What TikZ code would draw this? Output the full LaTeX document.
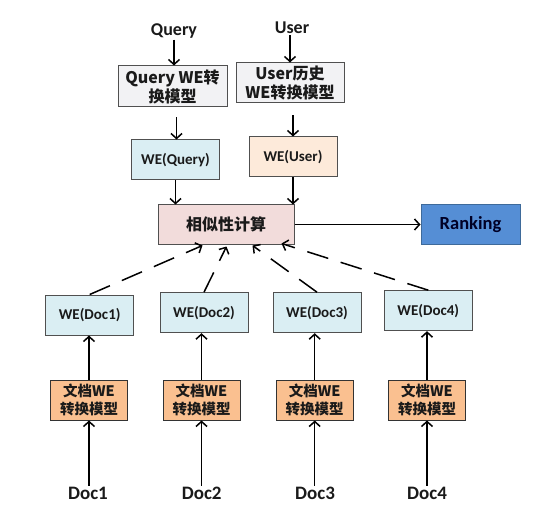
\documentclass[tikz,border=0pt]{standalone}
\usepackage{fontspec}
\setmainfont{Carlito}
\newfontfamily\cjk{Noto Sans CJK SC}
\usetikzlibrary{arrows.meta,calc}
\definecolor{qgray}{HTML}{F2F2F4}
\definecolor{lblue}{HTML}{DAEEF3}
\definecolor{peach}{HTML}{FDEADA}
\definecolor{pinkc}{HTML}{F2DCDB}
\definecolor{rankblue}{HTML}{558ED5}
\definecolor{rankedge}{HTML}{3E6A9A}
\definecolor{orangec}{HTML}{FAC090}
\definecolor{edgec}{HTML}{505050}
\definecolor{txt}{HTML}{1A1A1A}
\tikzset{
  box/.style={draw=edgec, line width=1pt, rectangle, inner sep=0pt, align=center, text=txt, font=\bfseries},
  lab/.style={font=\fontsize{18}{20}\selectfont\bfseries, text=txt, inner sep=1pt},
  arr/.style={line width=1.5pt, -{Straight Barb[length=5pt,width=11pt,line width=1.5pt]}},
  darr/.style={arr, dash pattern=on 22pt off 13pt},
}
\begin{document}
\begin{tikzpicture}[x=1pt,y=-1pt]
\useasboundingbox[fill=white] (0,0) rectangle (544,516);
% top labels
\node[lab] (qlab) at (174,31) {Query};
\node[lab] (ulab) at (292,28) {User};
% models
\node[box, fill=qgray, minimum width=109pt, minimum height=41pt, font=\cjk\bfseries\fontsize{16}{19}\selectfont] (qm) at (172.5,86.5) {Query WE转\\换模型};
\node[box, fill=qgray, minimum width=108pt, minimum height=40pt, font=\cjk\bfseries\fontsize{16}{19}\selectfont] (um) at (290,83) {User历史\\WE转换模型};
\node[box, fill=lblue, minimum width=88pt, minimum height=40pt, font=\bfseries\fontsize{15}{17}\selectfont] (wq) at (175.5,160) {WE(Query)};
\node[box, fill=peach, minimum width=88pt, minimum height=40pt, font=\bfseries\fontsize{15}{17}\selectfont] (wu) at (293,157) {WE(User)};
\node[box, fill=pinkc, minimum width=136pt, minimum height=39pt, font=\cjk\bfseries\fontsize{16}{19}\selectfont] (sim) at (226,224.5) {相似性计算};
\node[box, fill=rankblue, draw=rankedge, minimum width=99pt, minimum height=39pt, text=black!85!blue, font=\bfseries\fontsize{18.5}{20}\selectfont] (rank) at (470.5,224.5) {Ranking};
% doc embeddings
\foreach \i/\x/\y in {1/89.7/315, 2/204/312.7, 3/317/312.7, 4/428.3/310.7}{
  \node[box, fill=lblue, minimum width=88pt, minimum height=40pt, font=\bfseries\fontsize{15}{17}\selectfont] (wd\i) at (\x,\y) {WE(Doc\i)};
}
\foreach \i/\x in {1/89, 2/201.5, 3/314.7, 4/427}{
  \node[box, fill=orangec, draw=black!80, minimum width=77pt, minimum height=40pt, font=\cjk\bfseries\fontsize{14.5}{18}\selectfont] (dm\i) at (\x,400) {文档WE\\转换模型};
}
\foreach \i/\x in {1/88, 2/201.7, 3/315, 4/427}{
  \node[lab, font=\fontsize{19}{20}\selectfont\bfseries] (d\i) at (\x,493) {Doc\i};
}
% arrows top
\draw[arr] (qlab.south) -- (qlab.south |- qm.north);
\draw[arr] (ulab.south -| um.north) -- (um.north);
\coordinate (qa) at ($(qm.south)+(4,10)$);
\coordinate (ua) at ($(um.south)+(3,12)$);
\draw[arr] (qa) -- (qa |- wq.north);
\draw[arr] (ua) -- (ua |- wu.north);
\draw[arr] (wq.south) -- (wq.south |- sim.north);
\draw[arr] (wu.south) -- (wu.south |- sim.north);
\draw[arr] (sim.east) -- (rank.west);
% dashed arrows
\coordinate (s1) at ($(sim.south west)+(45,1)$);
\coordinate (s2) at ($(sim.south west)+(69,2)$);
\coordinate (s3) at ($(sim.south west)+(95,1)$);
\coordinate (s4) at ($(sim.south west)+(124,-1)$);
\foreach \i in {1,...,4}{
  \draw[darr] (wd\i.north) -- (s\i);
}
% bottom arrows
\foreach \i in {1,...,4}{
  \draw[arr] (d\i.north -| dm\i.south) -- (dm\i.south);
  \draw[arr] (dm\i.north) -- (dm\i.north |- wd\i.south);
}
\end{tikzpicture}
\end{document}
